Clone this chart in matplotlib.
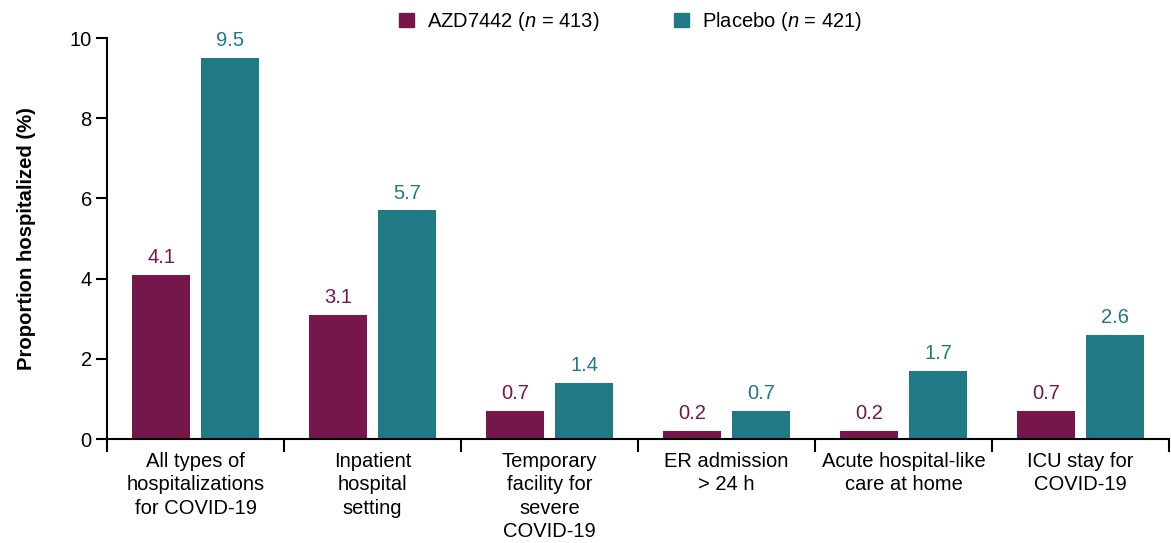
"""Proportion hospitalized by hospitalization type, AZD7442 vs placebo"""
import numpy as np
import matplotlib
matplotlib.use("Agg")
import matplotlib.pyplot as plt
from matplotlib.patches import Patch

categories = [
    "All types of\nhospitalizations\nfor COVID-19",
    "Inpatient\nhospital\nsetting",
    "Temporary\nfacility for\nsevere\nCOVID-19",
    "ER admission\n> 24 h",
    "Acute hospital-like\ncare at home",
    "ICU stay for\nCOVID-19",
]
azd = [4.1, 3.1, 0.7, 0.2, 0.2, 0.7]
placebo = [9.5, 5.7, 1.4, 0.7, 1.7, 2.6]
series_labels = ["AZD7442 ($\\it{n}$ = 413)", "Placebo ($\\it{n}$ = 421)"]

AZD_COL = "#75174A"
PBO_COL = "#1F7A85"
FS = 14.5

plt.rcParams["font.family"] = ["Liberation Sans", "DejaVu Sans"]
plt.rcParams["mathtext.fontset"] = "custom"
plt.rcParams["mathtext.rm"] = "Liberation Sans"
plt.rcParams["mathtext.it"] = "Liberation Sans:italic"


def plot_chart():
    fig = plt.figure(figsize=(11.71, 5.43), dpi=100)
    ax = fig.add_axes([0.0914, 0.1915, 0.907, 0.7385])

    x = np.arange(len(categories))
    width = 0.33
    off = 0.195
    b1 = ax.bar(x - off, azd, width, color=AZD_COL)
    b2 = ax.bar(x + off, placebo, width, color=PBO_COL)

    for bars, vals, col in [(b1, azd, AZD_COL), (b2, placebo, PBO_COL)]:
        for bar, v in zip(bars, vals):
            ax.annotate(f"{v:.1f}", (bar.get_x() + bar.get_width() / 2, v),
                        xytext=(0, 5.5), textcoords="offset points",
                        ha="center", va="bottom", color=col, fontsize=FS)

    ax.set_xlim(-0.5, len(categories) - 0.5)
    ax.set_ylim(0, 10)
    ax.set_yticks([0, 2, 4, 6, 8, 10])
    ax.tick_params(axis="y", labelsize=FS, width=1.5, length=8, pad=3)

    ax.set_xticks(x)
    ax.set_xticklabels(categories, fontsize=FS, linespacing=1.3, va="top")
    ax.tick_params(axis="x", which="major", length=0, pad=9)
    ax.set_xticks(np.arange(len(categories) + 1) - 0.5, minor=True)
    ax.tick_params(axis="x", which="minor", length=9, width=1.5, direction="out")

    for side in ["top", "right"]:
        ax.spines[side].set_visible(False)
    ax.spines["left"].set_linewidth(1.5)
    ax.spines["bottom"].set_linewidth(1.5)

    ax.set_ylabel("Proportion hospitalized (%)", fontsize=14.6,
                  fontweight="bold", labelpad=24)

    handles = [Patch(color=AZD_COL), Patch(color=PBO_COL)]
    fig.legend(handles, series_labels, loc="upper center",
               bbox_to_anchor=(0.5385, 1.015), ncol=2, frameon=False,
               fontsize=FS, handlelength=0.75, handleheight=0.75,
               handletextpad=0.65, columnspacing=3.7)

    fig.savefig("out.png", dpi=100)


if __name__ == "__main__":
    plot_chart()
